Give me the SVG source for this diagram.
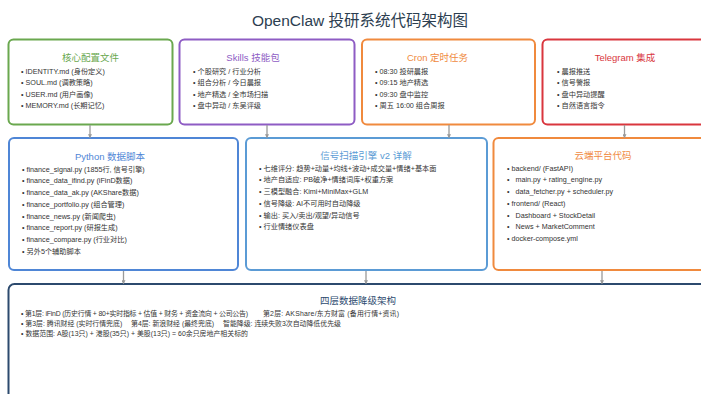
<svg xmlns="http://www.w3.org/2000/svg" width="701" height="394" viewBox="0 0 701 394">
<defs>
<style>
text{font-family:"Liberation Sans","Noto Sans CJK SC",sans-serif;}
.box{fill:#ffffff;stroke-width:2;}
.t{font-size:9.5px;text-anchor:middle;}
.i{font-size:7.2px;fill:#333333;}
.b{font-size:6.9px;fill:#333333;}
.conn line{stroke:#9a9a9a;stroke-width:1.3;marker-end:url(#ah);}
</style>
<marker id="ah" viewBox="0 0 6 6" refX="5" refY="3" markerWidth="4" markerHeight="4" orient="auto" markerUnits="userSpaceOnUse">
<path d="M0,0 L6,3 L0,6 z" fill="#9a9a9a"/>
</marker>
</defs>
<rect width="701" height="394" fill="#ffffff"/>
<text x="360" y="26" style="font-size:15.5px;fill:#2c3e50;text-anchor:middle">OpenClaw 投研系统代码架构图</text>

<g id="core-config">
<rect class="box" x="8.5" y="39.5" width="164" height="85" rx="5" stroke="#6aa84f"/>
<text class="t" x="90.5" y="60.5" fill="#6aa84f">核心配置文件</text>
<text class="i" x="21" y="73.5">• IDENTITY.md (身份定义)</text>
<text class="i" x="21" y="85">• SOUL.md (调教策略)</text>
<text class="i" x="21" y="96.5">• USER.md (用户画像)</text>
<text class="i" x="21" y="108">• MEMORY.md (长期记忆)</text>
</g>

<g id="skills">
<rect class="box" x="179.5" y="39.5" width="175" height="85" rx="5" stroke="#8e5cc4"/>
<text class="t" x="253" y="61" fill="#8e5cc4">Skills 技能包</text>
<text class="i" x="193" y="73.5">• 个股研究 / 行业分析</text>
<text class="i" x="193" y="85">• 组合分析 / 今日晨报</text>
<text class="i" x="193" y="96.5">• 地产精选 / 全市场扫描</text>
<text class="i" x="193" y="108">• 盘中异动 / 东吴评级</text>
</g>

<g id="cron">
<rect class="box" x="362" y="39.5" width="173" height="85" rx="5" stroke="#f08a3e"/>
<text class="t" x="437.5" y="61" fill="#f08a3e">Cron 定时任务</text>
<text class="i" x="375" y="73.5">• 08:30 投研晨报</text>
<text class="i" x="375" y="85">• 09:15 地产精选</text>
<text class="i" x="375" y="96.5">• 09:30 盘中监控</text>
<text class="i" x="375" y="108">• 周五 16:00 组合周报</text>
</g>

<g id="telegram">
<rect class="box" x="542.5" y="39.5" width="164" height="85" rx="5" stroke="#d9363e"/>
<text class="t" x="625" y="61" fill="#d9363e">Telegram 集成</text>
<text class="i" x="557" y="73.5">• 晨报推送</text>
<text class="i" x="557" y="85">• 信号警报</text>
<text class="i" x="557" y="96.5">• 盘中异动提醒</text>
<text class="i" x="557" y="108">• 自然语言指令</text>
</g>

<g id="python-scripts">
<rect class="box" x="9" y="138" width="229" height="132" rx="5" stroke="#4f86d6"/>
<text class="t" x="110" y="160" fill="#4f86d6">Python 数据脚本</text>
<text class="i" x="22" y="171.5">• finance_signal.py (1855行, 信号引擎)</text>
<text class="i" x="22" y="183.3">• finance_data_ifind.py (iFinD数据)</text>
<text class="i" x="22" y="195">• finance_data_ak.py (AKShare数据)</text>
<text class="i" x="22" y="206.8">• finance_portfolio.py (组合管理)</text>
<text class="i" x="22" y="218.5">• finance_news.py (新闻爬虫)</text>
<text class="i" x="22" y="230.3">• finance_report.py (研报生成)</text>
<text class="i" x="22" y="242">• finance_compare.py (行业对比)</text>
<text class="i" x="22" y="253.8">• 另外5个辅助脚本</text>
</g>

<g id="signal-engine">
<rect class="box" x="246" y="138" width="241" height="132" rx="5" stroke="#5b9bd5"/>
<text class="t" x="366" y="158.5" fill="#5b9bd5">信号扫描引擎 v2 详解</text>
<text class="i" x="259" y="170.5">• 七维评分: 趋势+动量+均线+波动+成交量+情绪+基本面</text>
<text class="i" x="259" y="182.3">• 地产自适应: PB破净+情绪词库+权重方案</text>
<text class="i" x="259" y="194">• 三模型融合: Kimi+MiniMax+GLM</text>
<text class="i" x="259" y="205.8">• 信号降级: AI不可用时自动降级</text>
<text class="i" x="259" y="217.5">• 输出: 买入/卖出/观望/异动信号</text>
<text class="i" x="259" y="229.3">• 行业情绪仪表盘</text>
</g>

<g id="cloud-platform">
<rect class="box" x="493.5" y="138" width="230" height="132" rx="5" stroke="#f08a3e"/>
<text class="t" x="603" y="158.5" fill="#f08a3e">云端平台代码</text>
<text class="i" x="507" y="170.5">• backend/ (FastAPI)</text>
<text class="i" x="507" y="182.3" xml:space="preserve">•   main.py + rating_engine.py</text>
<text class="i" x="507" y="194" xml:space="preserve">•   data_fetcher.py + scheduler.py</text>
<text class="i" x="507" y="205.8">• frontend/ (React)</text>
<text class="i" x="507" y="217.5" xml:space="preserve">•   Dashboard + StockDetail</text>
<text class="i" x="507" y="229.3" xml:space="preserve">•   News + MarketComment</text>
<text class="i" x="507" y="241">• docker-compose.yml</text>
</g>

<g id="data-fallback">
<rect class="box" x="8.5" y="284" width="720" height="140" rx="6" stroke="#2c4a6e"/>
<text class="t" x="358" y="303.5" fill="#2c4a6e">四层数据降级架构</text>
<text class="b" x="21" y="315.5" textLength="227">• 第1层: iFinD (历史行情 + 80+实时指标 + 估值 + 财务 + 资金流向 + 公司公告)</text>
<text class="b" x="263" y="315.5" textLength="136">第2层: AKShare/东方财富 (备用行情+资讯)</text>
<text class="b" x="21" y="325.5">• 第3层: 腾讯财经 (实时行情兜底)</text>
<text class="b" x="131" y="325.5">第4层: 新浪财经 (最终兜底)</text>
<text class="b" x="223" y="325.5">智能降级: 连续失败3次自动降低优先级</text>
<text class="b" x="21" y="335.5" textLength="227">• 数据范围: A股(13只) + 港股(35只) + 美股(13只) = 60余只房地产相关标的</text>
</g>

<g id="connectors" class="conn">
<line x1="90" y1="125" x2="90" y2="137.5"/>
<line x1="267" y1="125" x2="267" y2="137.5"/>
<line x1="449" y1="125" x2="449" y2="137.5"/>
<line x1="624.5" y1="125" x2="624.5" y2="137.5"/>
<line x1="123.5" y1="271" x2="123.5" y2="283.5"/>
<line x1="366" y1="271" x2="366" y2="283.5"/>
<line x1="602" y1="271" x2="602" y2="283.5"/>
</g>
</svg>
